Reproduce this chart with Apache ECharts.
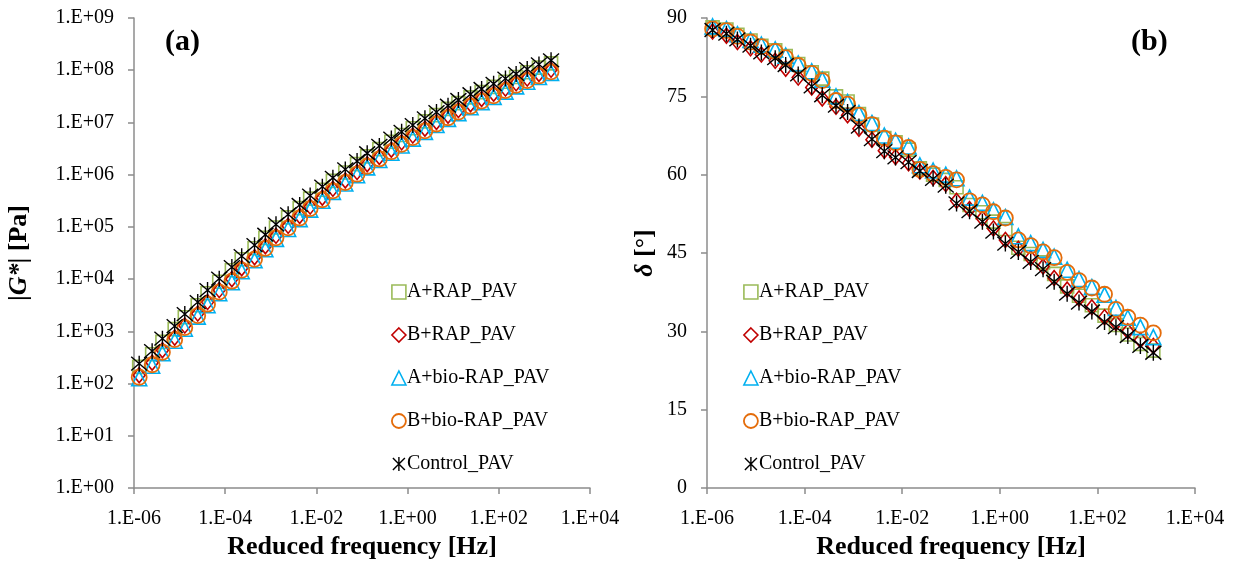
<!DOCTYPE html>
<html>
<head>
<meta charset="utf-8">
<script src="https://cdn.jsdelivr.net/npm/echarts@6/dist/echarts.min.js"></script>
<style>
  html, body { margin: 0; padding: 0; background: #fff; }
  #chart { width: 1237px; height: 561px; }
</style>
</head>
<body>
<div id="chart"></div>
<script>
// Reduced frequency of each master-curve point [Hz]
const reducedFreq = [1.3e-6, 2.5e-6, 4.2e-6, 7.8e-6, 1.3e-5, 2.5e-5, 4.1e-5, 7.4e-5, 1.4e-4, 2.3e-4,
  4.4e-4, 7.6e-4, 1.3e-3, 2.4e-3, 4.3e-3, 7.3e-3, 1.35e-2, 2.3e-2, 4.3e-2, 7.8e-2,
  0.13, 0.24, 0.44, 0.74, 1.3, 2.4, 4.3, 7.7, 13, 24, 42, 77, 140, 240, 420, 760, 1400];

const seriesNames = ['A+RAP_PAV', 'B+RAP_PAV', 'A+bio-RAP_PAV', 'B+bio-RAP_PAV', 'Control_PAV'];

// Complex shear modulus |G*| [Pa]
const gA_RAP = [209, 365, 627, 1100, 1860, 3160, 5370, 8880, 14800, 24000,
  38900, 61700, 97600, 152000, 229000, 347000, 513000, 759000, 1.10e6, 1.59e6,
  2.24e6, 3.09e6, 4.27e6, 5.76e6, 7.76e6, 1.05e7, 1.38e7, 1.82e7, 2.34e7, 3.02e7,
  3.81e7, 4.79e7, 6.03e7, 7.41e7, 9.15e7, 1.12e8, 1.35e8];
const gB_RAP = [145, 251, 436, 758, 1290, 2190, 3630, 6160, 10000, 16200,
  26300, 42600, 67600, 104700, 162000, 245000, 363000, 537000, 776000, 1.12e6,
  1.59e6, 2.19e6, 3.01e6, 4.16e6, 5.62e6, 7.58e6, 1.02e7, 1.35e7, 1.73e7, 2.24e7,
  2.82e7, 3.55e7, 4.46e7, 5.62e7, 6.92e7, 8.51e7, 1.02e8];
const gA_bio = [126, 219, 380, 661, 1122, 1910, 3160, 5370, 8710, 14100,
  22900, 37200, 58900, 91200, 141000, 214000, 316000, 468000, 676000, 977000,
  1.38e6, 1.91e6, 2.63e6, 3.63e6, 4.90e6, 6.61e6, 8.91e6, 1.17e7, 1.51e7, 1.95e7,
  2.45e7, 3.09e7, 3.89e7, 4.90e7, 6.03e7, 7.41e7, 8.91e7];
const gB_bio = [132, 229, 398, 692, 1175, 2000, 3310, 5620, 9120, 14800,
  24000, 38900, 61700, 95500, 148000, 224000, 331000, 490000, 708000, 1.02e6,
  1.45e6, 2.00e6, 2.75e6, 3.80e6, 5.13e6, 6.92e6, 9.33e6, 1.23e7, 1.58e7, 2.04e7,
  2.57e7, 3.24e7, 4.07e7, 5.13e7, 6.31e7, 7.76e7, 9.33e7];
const gControl = [240, 417, 724, 1260, 2140, 3630, 6170, 10200, 17000, 27500,
  44700, 70800, 112000, 174000, 263000, 398000, 589000, 871000, 1.26e6, 1.82e6,
  2.57e6, 3.55e6, 4.90e6, 6.61e6, 8.91e6, 1.20e7, 1.58e7, 2.09e7, 2.69e7, 3.47e7,
  4.37e7, 5.50e7, 6.92e7, 8.51e7, 1.05e8, 1.29e8, 1.55e8];

// Phase angle δ [°]
const dA_RAP = [88.2, 87.8, 86.8, 85.7, 84.7, 83.8, 82.7, 81.2, 79.6, 78.4,
  75.0, 74.0, 71.6, 69.6, 67.0, 66.2, 64.8, 61.2, 60.0, 59.0,
  57.6, 54.2, 52.8, 51.0, 49.6, 46.0, 44.8, 43.2, 41.0, 38.6,
  36.8, 35.0, 33.0, 31.2, 29.4, 27.6, 26.3];
const dB_RAP = [87.4, 86.6, 85.4, 84.2, 83.0, 81.8, 80.3, 78.6, 76.7, 74.6,
  73.0, 71.4, 68.8, 66.7, 64.6, 63.4, 62.2, 60.6, 59.4, 58.2,
  55.0, 53.4, 51.6, 49.7, 47.5, 45.8, 44.0, 42.4, 40.2, 38.0,
  36.3, 34.6, 32.7, 31.6, 30.0, 28.3, 27.2];
const dA_bio = [88.4, 87.9, 86.9, 85.8, 84.9, 84.0, 82.8, 81.3, 79.8, 78.2,
  75.0, 73.9, 71.8, 69.9, 67.5, 66.5, 65.4, 61.8, 60.8, 60.0,
  59.3, 55.6, 54.6, 53.2, 51.9, 48.2, 46.9, 45.6, 44.3, 41.8,
  40.0, 38.5, 37.0, 34.5, 32.6, 30.8, 28.9];
const dB_bio = [87.9, 87.6, 86.5, 85.4, 84.5, 83.6, 82.4, 80.9, 79.4, 78.0,
  74.2, 73.5, 71.4, 69.6, 67.0, 66.1, 65.2, 61.0, 60.2, 59.5,
  59.0, 55.0, 54.2, 52.9, 51.7, 47.5, 46.4, 45.2, 44.1, 41.3,
  39.7, 38.3, 37.1, 34.2, 32.7, 31.2, 29.7];
const dControl = [87.7, 87.0, 85.9, 84.7, 83.4, 82.3, 81.0, 79.2, 76.9, 75.2,
  73.2, 72.0, 69.2, 66.8, 64.5, 63.3, 62.4, 60.7, 59.2, 57.9,
  54.5, 53.0, 51.0, 49.1, 46.8, 45.2, 43.3, 41.9, 39.5, 37.2,
  35.5, 33.8, 31.8, 30.8, 29.1, 27.2, 25.9];

const gSets = [gA_RAP, gB_RAP, gA_bio, gB_bio, gControl];
const dSets = [dA_RAP, dB_RAP, dA_bio, dB_bio, dControl];

// Marker styles: open square, open diamond, open triangle, open circle, asterisk
const markers = [
  { symbol: 'rect', size: 13, color: '#9BBB59', width: 1.6 },
  { symbol: 'diamond', size: [12, 15], color: '#C00000', width: 1.6 },
  { symbol: 'triangle', size: 15, color: '#00B0F0', width: 1.6 },
  { symbol: 'circle', size: 15, color: '#E46C0A', width: 1.8 },
  { symbol: 'path://M0,0L12,12M12,0L0,12M6,-1L6,13', size: 16, color: '#000000', width: 1.4 }
];

const FONT = '"Liberation Serif", "Times New Roman", serif';

function expLabel(v) {
  const e = Math.round(Math.log10(v));
  const s = e < 0 ? '-' : '+';
  const a = Math.abs(e);
  return '1.E' + s + (a < 10 ? '0' + a : '' + a);
}

const axisLineStyle = { lineStyle: { color: '#8C8C8C', width: 1.5 } };
const tickStyle = { show: true, inside: false, length: 6, lineStyle: { color: '#8C8C8C', width: 1.5 } };
const labelStyle = { color: '#000', fontFamily: FONT, fontSize: 20 };
const titleStyle = { color: '#000', fontFamily: FONT, fontSize: 26, fontWeight: 'bold' };
const italicRich = { i: { fontFamily: FONT, fontSize: 26, fontWeight: 'bold', fontStyle: 'italic' } };

function freqAxis(gridIndex) {
  return {
    type: 'log', logBase: 10, gridIndex: gridIndex,
    min: 1e-6, max: 1e4, interval: 2,
    name: 'Reduced frequency [Hz]', nameLocation: 'middle', nameGap: 44,
    nameTextStyle: titleStyle,
    axisLine: axisLineStyle, axisTick: tickStyle,
    axisLabel: Object.assign({ margin: 21, formatter: expLabel, interval: 0, hideOverlap: false,
      showMinLabel: true, showMaxLabel: true }, labelStyle),
    splitLine: { show: false }, minorTick: { show: false }
  };
}

const series = [];
seriesNames.forEach(function (name, i) {
  const m = markers[i];
  [0, 1].forEach(function (panel) {
    const ys = panel === 0 ? gSets[i] : dSets[i];
    series.push({
      name: name,
      type: 'scatter',
      xAxisIndex: panel, yAxisIndex: panel,
      symbol: m.symbol, symbolSize: m.size,
      itemStyle: { color: 'rgba(0,0,0,0)', borderColor: m.color, borderWidth: m.width, opacity: 1 },
      emphasis: { disabled: true },
      z: 2 + i,
      data: reducedFreq.map(function (f, k) { return [f, ys[k]]; })
    });
  });
});

function legendAt(left) {
  return {
    orient: 'vertical', left: left, top: 277,
    itemGap: 23, itemWidth: 14, itemHeight: 14,
    selectedMode: false,
    textStyle: { color: '#000', fontFamily: FONT, fontSize: 20, padding: [0, 0, 0, -4] },
    data: seriesNames.map(function (n, i) {
      return { name: n, icon: markers[i].symbol,
        itemStyle: { color: 'rgba(0,0,0,0)', borderColor: markers[i].color, borderWidth: markers[i].width } };
    })
  };
}

const chart = echarts.init(document.getElementById('chart'), null, { renderer: 'canvas' });
chart.setOption({
  animation: false,
  backgroundColor: '#fff',
  grid: [
    { left: 134, top: 18, width: 456, height: 470, outerBoundsMode: 'none', containLabel: false },
    { left: 707, top: 18, width: 488, height: 470, outerBoundsMode: 'none', containLabel: false }
  ],
  xAxis: [freqAxis(0), freqAxis(1)],
  yAxis: [
    {
      type: 'log', logBase: 10, gridIndex: 0,
      min: 1, max: 1e9, interval: 1,
      name: '|{i|G*}| [Pa]', nameLocation: 'middle', nameGap: 102, nameRotate: 90,
      nameTextStyle: Object.assign({ rich: italicRich }, titleStyle),
      axisLine: axisLineStyle, axisTick: tickStyle,
      axisLabel: Object.assign({ margin: 20, formatter: expLabel }, labelStyle),
      splitLine: { show: false }, minorTick: { show: false }
    },
    {
      type: 'value', gridIndex: 1,
      min: 0, max: 90, interval: 15,
      name: '{i|δ} [°]', nameLocation: 'middle', nameGap: 49, nameRotate: 90,
      nameTextStyle: Object.assign({ rich: italicRich }, titleStyle),
      axisLine: axisLineStyle, axisTick: tickStyle,
      axisLabel: Object.assign({ margin: 20 }, labelStyle),
      splitLine: { show: false }
    }
  ],
  legend: [legendAt(386), legendAt(738)],
  graphic: [
    { type: 'text', left: 165, top: 27, style: { text: '(a)', font: 'bold 30px ' + FONT, fill: '#000' } },
    { type: 'text', left: 1131, top: 27, style: { text: '(b)', font: 'bold 30px ' + FONT, fill: '#000' } }
  ],
  series: series
});
</script>
</body>
</html>
